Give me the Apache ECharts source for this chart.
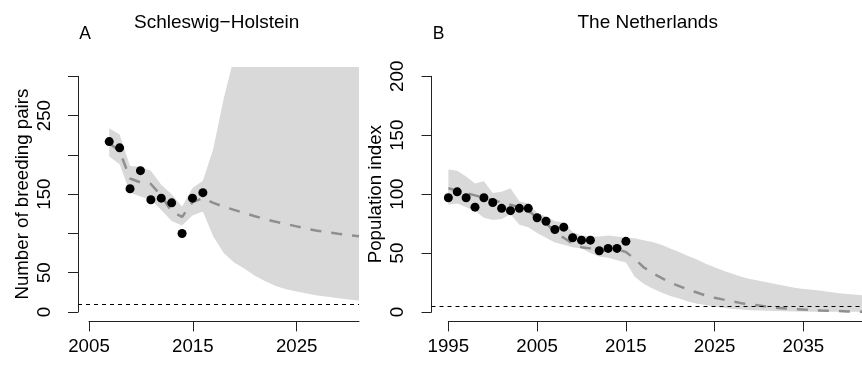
<!DOCTYPE html>
<html>
<head>
<meta charset="utf-8">
<script src="https://cdn.jsdelivr.net/npm/echarts@6/dist/echarts.min.js"></script>
<style>
  html, body { margin: 0; background: #fff; }
  #chart { width: 862px; height: 373px; }
</style>
</head>
<body>
<div id="chart"></div>
<script>
// ---- panel A: Schleswig-Holstein ----
const obsYearsA = [2007, 2008, 2009, 2010, 2011, 2012, 2013, 2014, 2015, 2016]
const pairsA = [217, 209, 157, 180, 143, 145, 139, 100, 145, 152]
const fitYearsA = [2007, 2008, 2009, 2010, 2011, 2012, 2013, 2014, 2015, 2016,
  2017, 2018, 2019, 2020, 2021, 2022, 2023, 2024, 2025, 2026, 2027, 2028, 2029, 2030, 2031]
const fitA = [215, 205, 170, 165, 163, 148, 128, 121, 140, 145,
  139, 134, 130, 126, 122, 118, 115, 112, 109, 106, 103.5, 101.5, 99.5, 98, 96.5]
const upA = [234, 226, 186, 185, 180, 162, 150, 134, 158, 167,
  208, 272, 325, 390, 450, 500, 550, 600, 640, 680, 720, 760, 790, 820, 850]
const lowA = [198, 188, 152, 147, 143, 130, 116, 110, 123, 128,
  96, 75, 63, 55, 46, 39, 33, 29, 26, 23.5, 21, 19.5, 17.5, 16, 14.5]
const thresholdA = 10
const yTicksA = [0, 50, 150, 250]
const xTicksA = [2005, 2015, 2025]

// ---- panel B: The Netherlands ----
const obsYearsB = [1995, 1996, 1997, 1998, 1999, 2000, 2001, 2002, 2003, 2004, 2005,
  2006, 2007, 2008, 2009, 2010, 2011, 2012, 2013, 2014, 2015]
const indexB = [97, 102, 97, 89, 97, 93, 88, 86, 88, 88, 80,
  77, 70, 72, 63, 61, 61, 52, 54, 54, 60]
const fitYearsB = [1995, 1996, 1997, 1998, 1999, 2000, 2001, 2002, 2003, 2004,
  2005, 2006, 2007, 2008, 2009, 2010, 2011, 2012, 2013, 2014,
  2015, 2016, 2017, 2018, 2019, 2020, 2021, 2022, 2023, 2024,
  2025, 2026, 2027, 2028, 2029, 2030, 2031, 2032, 2033, 2034,
  2035, 2036, 2037, 2038, 2039, 2040, 2041, 2042]
const fitB = [105, 103, 101, 99, 97, 95, 93, 91, 89, 86,
  80, 76, 67, 63, 58, 55, 54, 52, 52, 53,
  51, 45, 38, 33, 29, 25, 22, 19, 16.5, 14,
  12, 10.5, 9, 7.5, 6.5, 5.5, 4.5, 3.5, 3, 2.5,
  2, 1.6, 1.2, 1, 0.8, 0.5, 0.3, 0.2]
const upB = [121, 120, 115, 109, 111, 101, 102, 105, 94, 92,
  84, 81, 77, 76, 68, 65, 64, 64, 65, 64,
  63, 62.5, 61, 59.5, 57, 54, 51, 47.5, 44.5, 41,
  38, 35, 32.5, 30, 28, 26.5, 25, 23.5, 22, 20.5,
  19.5, 18.8, 18, 17, 16, 15.2, 14.6, 14]
const lowB = [91, 92, 89, 86, 80, 78, 79, 83, 74, 72,
  67, 63, 59, 57, 55, 54, 50, 47, 46, 44,
  42, 30, 24, 20, 16.5, 13.5, 11.5, 9, 7, 6,
  4.5, 3.5, 2.5, 2, 1.5, 1.2, 1, 0.8, 0.6, 0.4,
  0.3, 0.2, 0.2, 0.1, 0.1, 0.1, 0.1, 0.1]
const thresholdB = 5
const yTicksB = [0, 50, 100, 150, 200]
const xTicksB = [1995, 2005, 2015, 2025, 2035]

const FONT = "'Liberation Sans', Arial, Helvetica, sans-serif"
const AXIS_COL = '#222'
const LABEL_SIZE = 18.7

const chart = echarts.init(document.getElementById('chart'))

// band polygon: upper edge forward, lower edge back, clipped to the plot area
const band = (xs, lo, hi) => (params, api) => {
  if (params.dataIndex !== 0) return
  const pts = []
  for (let i = 0; i < xs.length; i++) pts.push(api.coord([xs[i], hi[i]]))
  for (let i = xs.length - 1; i >= 0; i--) pts.push(api.coord([xs[i], lo[i]]))
  const cs = params.coordSys
  return {
    type: 'polygon',
    shape: {points: pts},
    style: {fill: '#d9d9d9'},
    clipPath: {type: 'rect', shape: {x: cs.x, y: cs.y, width: cs.width, height: cs.height}}
  }
}

const hidden = (gridIndex, min, max) => ({type: 'value', gridIndex, min, max, show: false})

const yAxisShown = (gridIndex, max, ticks, name, nameGap) => ({
  type: 'value', gridIndex, min: 0, max, interval: 50,
  axisLine: {show: true, onZero: false, lineStyle: {color: AXIS_COL, width: 1}},
  axisTick: {show: true, length: 10, lineStyle: {color: AXIS_COL, width: 1}},
  splitLine: {show: false},
  axisLabel: {
    rotate: 90, margin: 24, color: '#000', fontSize: LABEL_SIZE, fontFamily: FONT,
    formatter: v => ticks.includes(v) ? String(v) : ''
  },
  name, nameLocation: 'middle', nameRotate: 90, nameGap,
  nameTextStyle: {color: '#000', fontSize: LABEL_SIZE, fontFamily: FONT}
})

const xAxisShown = (gridIndex, min, max, ticks) => ({
  type: 'value', gridIndex, min, max,
  axisLine: {show: true, onZero: false, lineStyle: {color: AXIS_COL, width: 1}},
  axisTick: {show: true, length: 10, customValues: ticks, lineStyle: {color: AXIS_COL, width: 1}},
  splitLine: {show: false},
  axisLabel: {
    customValues: ticks, margin: 16, color: '#000', fontSize: LABEL_SIZE, fontFamily: FONT,
    formatter: v => String(v)
  }
})

const fitLine = (xAxisIndex, xs, ys, thr) => ({
  type: 'line', xAxisIndex, yAxisIndex: xAxisIndex,
  data: xs.map((x, i) => [x, ys[i]]),
  showSymbol: false, silent: true, z: 3,
  lineStyle: {color: '#8f8f8f', width: 2.5, type: [11, 10]},
  markLine: {
    silent: true, symbol: 'none', label: {show: false},
    lineStyle: {color: '#000', width: 1, type: [4, 4]},
    data: [{yAxis: thr}]
  }
})

const dots = (xAxisIndex, xs, ys) => ({
  type: 'scatter', xAxisIndex, yAxisIndex: xAxisIndex,
  data: xs.map((x, i) => [x, ys[i]]),
  symbolSize: 9, itemStyle: {color: '#000', opacity: 1}, z: 4
})

const bandSeries = (xAxisIndex, xs, lo, hi) => ({
  type: 'custom', xAxisIndex, yAxisIndex: xAxisIndex,
  data: xs.map((x, i) => [x, lo[i], hi[i]]),
  encode: {x: 0, y: [1, 2]},
  renderItem: band(xs, lo, hi), silent: true, z: 1
})

const gridBase = {outerBoundsMode: 'none', containLabel: false}

const option = {
  animation: false,
  backgroundColor: '#fff',
  textStyle: {fontFamily: FONT},
  grid: [
    {...gridBase, left: 78, top: 67, width: 281, height: 254.4},     // A plot
    {...gridBase, left: 78, top: 76.3, width: 281, height: 235.7},   // A y axis
    {...gridBase, left: 89, top: 67, width: 270, height: 254.4},     // A x axis
    {...gridBase, left: 431.5, top: 67, width: 430.5, height: 254.4}, // B plot
    {...gridBase, left: 431.5, top: 76.3, width: 430.5, height: 235.7},
    {...gridBase, left: 448.3, top: 67, width: 413.7, height: 254.4}
  ],
  xAxis: [
    hidden(0, 2004, 2031),
    hidden(1, 2004, 2031),
    xAxisShown(2, 2005, 2031, xTicksA),
    hidden(3, 1993.1, 2041.6),
    hidden(4, 1993.1, 2041.6),
    xAxisShown(5, 1995, 2041.6, xTicksB)
  ],
  yAxis: [
    hidden(0, -12, 312),
    yAxisShown(1, 300, yTicksA, 'Number of breeding pairs', 46),
    hidden(2, 1, 2),
    hidden(3, -8, 208),
    yAxisShown(4, 200, yTicksB, 'Population index', 46),
    hidden(5, 1, 2)
  ],
  graphic: [
    {type: 'text', x: 216.7, y: 23, style: {text: 'Schleswig−Holstein', fontSize: 19, fontFamily: FONT, fill: '#000', align: 'center', verticalAlign: 'middle', textAlign: 'center', textVerticalAlign: 'middle'}},
    {type: 'text', x: 647.7, y: 23, style: {text: 'The Netherlands', fontSize: 19, fontFamily: FONT, fill: '#000', align: 'center', verticalAlign: 'middle', textAlign: 'center', textVerticalAlign: 'middle'}},
    {type: 'text', x: 85, y: 34, style: {text: 'A', fontSize: 17.5, fontFamily: FONT, fill: '#000', align: 'center', verticalAlign: 'middle', textAlign: 'center', textVerticalAlign: 'middle'}},
    {type: 'text', x: 438.5, y: 34, style: {text: 'B', fontSize: 17.5, fontFamily: FONT, fill: '#000', align: 'center', verticalAlign: 'middle', textAlign: 'center', textVerticalAlign: 'middle'}}
  ],
  series: [
    bandSeries(0, fitYearsA, lowA, upA),
    fitLine(0, fitYearsA, fitA, thresholdA),
    dots(0, obsYearsA, pairsA),
    bandSeries(3, fitYearsB, lowB, upB),
    fitLine(3, fitYearsB, fitB, thresholdB),
    dots(3, obsYearsB, indexB)
  ]
}

chart.setOption(option)
</script>
</body>
</html>
